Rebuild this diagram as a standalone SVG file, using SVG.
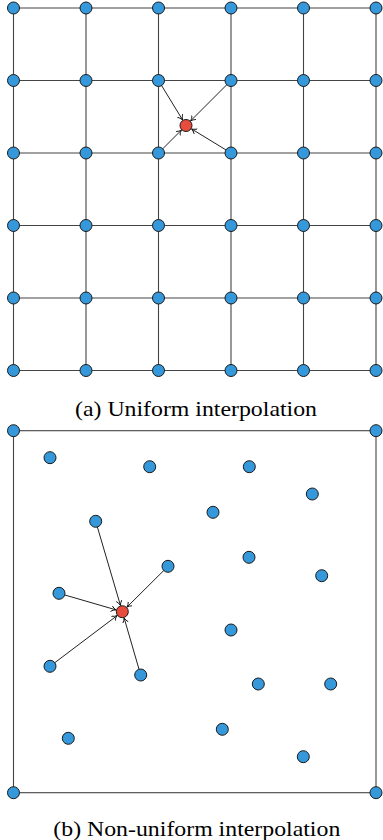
<svg xmlns="http://www.w3.org/2000/svg" width="383" height="840" viewBox="0 0 383 840">
<style>
.grid{stroke:#444;stroke-width:1.1;fill:none}
.edge{stroke:#222;stroke-width:1;fill:none;marker-end:url(#ah)}
.n{fill:#3498db;stroke:#1a1a1a;stroke-width:1}
.r{fill:#e74c3c;stroke:#1a1a1a;stroke-width:1}
.cap{font-family:"Liberation Serif",serif;font-size:22px;fill:#000}
</style>
<defs>
<marker id="ah" markerWidth="8" markerHeight="8" refX="5" refY="3" orient="auto" markerUnits="userSpaceOnUse">
<path d="M0,0 Q2.5,2.4 5,3 Q2.5,3.6 0,6" fill="none" stroke="#111" stroke-width="0.9"/>
</marker>
</defs>
<rect width="383" height="840" fill="#fff"/>
<g id="connectors">
<g id="grid-lines" class="grid">
<path d="M13.5,8H376M13.5,80.5H376M13.5,153H376M13.5,225.5H376M13.5,298H376M13.5,370.5H376"/>
<path d="M13.5,8V370.5M86,8V370.5M158.5,8V370.5M231,8V370.5M303.5,8V370.5M376,8V370.5"/>
<rect x="13.5" y="430.7" width="362.5" height="362"/>
</g>
<line class="edge" x1="158.5" y1="80.5" x2="182.6" y2="119.95"/>
<line class="edge" x1="231" y1="80.5" x2="190.6" y2="120.9"/>
<line class="edge" x1="158.5" y1="153" x2="181.4" y2="130.1"/>
<line class="edge" x1="231" y1="153" x2="191.55" y2="128.9"/>
<line class="edge" x1="95.7" y1="521.3" x2="120.47" y2="605.46"/>
<line class="edge" x1="168" y1="566.3" x2="126.91" y2="607.12"/>
<line class="edge" x1="59" y1="593.3" x2="116.06" y2="609.89"/>
<line class="edge" x1="50" y1="666.3" x2="117.11" y2="615.62"/>
<line class="edge" x1="140.7" y1="675" x2="124.11" y2="617.94"/>
</g>
<g id="grid-nodes">
<g id="g-r0"><circle class="n" cx="13.5" cy="8" r="6"/><circle class="n" cx="86" cy="8" r="6"/><circle class="n" cx="158.5" cy="8" r="6"/><circle class="n" cx="231" cy="8" r="6"/><circle class="n" cx="303.5" cy="8" r="6"/><circle class="n" cx="376" cy="8" r="6"/></g>
<g id="g-r1"><circle class="n" cx="13.5" cy="80.5" r="6"/><circle class="n" cx="86" cy="80.5" r="6"/><circle class="n" cx="158.5" cy="80.5" r="6"/><circle class="n" cx="231" cy="80.5" r="6"/><circle class="n" cx="303.5" cy="80.5" r="6"/><circle class="n" cx="376" cy="80.5" r="6"/></g>
<g id="g-r2"><circle class="n" cx="13.5" cy="153" r="6"/><circle class="n" cx="86" cy="153" r="6"/><circle class="n" cx="158.5" cy="153" r="6"/><circle class="n" cx="231" cy="153" r="6"/><circle class="n" cx="303.5" cy="153" r="6"/><circle class="n" cx="376" cy="153" r="6"/></g>
<g id="g-r3"><circle class="n" cx="13.5" cy="225.5" r="6"/><circle class="n" cx="86" cy="225.5" r="6"/><circle class="n" cx="158.5" cy="225.5" r="6"/><circle class="n" cx="231" cy="225.5" r="6"/><circle class="n" cx="303.5" cy="225.5" r="6"/><circle class="n" cx="376" cy="225.5" r="6"/></g>
<g id="g-r4"><circle class="n" cx="13.5" cy="298" r="6"/><circle class="n" cx="86" cy="298" r="6"/><circle class="n" cx="158.5" cy="298" r="6"/><circle class="n" cx="231" cy="298" r="6"/><circle class="n" cx="303.5" cy="298" r="6"/><circle class="n" cx="376" cy="298" r="6"/></g>
<g id="g-r5"><circle class="n" cx="13.5" cy="370.5" r="6"/><circle class="n" cx="86" cy="370.5" r="6"/><circle class="n" cx="158.5" cy="370.5" r="6"/><circle class="n" cx="231" cy="370.5" r="6"/><circle class="n" cx="303.5" cy="370.5" r="6"/><circle class="n" cx="376" cy="370.5" r="6"/></g>
<g id="target-a"><circle class="r" cx="186" cy="125.5" r="6"/></g>
</g>
<g id="scatter-nodes">
<g id="corners"><circle class="n" cx="13.5" cy="430.7" r="6"/><circle class="n" cx="376" cy="430.7" r="6"/><circle class="n" cx="13.5" cy="792.7" r="6"/><circle class="n" cx="376" cy="792.7" r="6"/></g>
<g id="s1"><circle class="n" cx="50" cy="457.7" r="6"/></g>
<g id="s2"><circle class="n" cx="149.7" cy="466.7" r="6"/></g>
<g id="s3"><circle class="n" cx="249.3" cy="466.7" r="6"/></g>
<g id="s4"><circle class="n" cx="312.3" cy="494" r="6"/></g>
<g id="s5"><circle class="n" cx="213" cy="512.3" r="6"/></g>
<g id="s6"><circle class="n" cx="95.7" cy="521.3" r="6"/></g>
<g id="s7"><circle class="n" cx="249" cy="557.3" r="6"/></g>
<g id="s8"><circle class="n" cx="168" cy="566.3" r="6"/></g>
<g id="s9"><circle class="n" cx="321.7" cy="575.7" r="6"/></g>
<g id="s10"><circle class="n" cx="59" cy="593.3" r="6"/></g>
<g id="s11"><circle class="n" cx="231" cy="630" r="6"/></g>
<g id="s12"><circle class="n" cx="50" cy="666.3" r="6"/></g>
<g id="s13"><circle class="n" cx="140.7" cy="675" r="6"/></g>
<g id="s14"><circle class="n" cx="258.3" cy="684" r="6"/></g>
<g id="s15"><circle class="n" cx="330.7" cy="684" r="6"/></g>
<g id="s16"><circle class="n" cx="222.3" cy="729.3" r="6"/></g>
<g id="s17"><circle class="n" cx="68.3" cy="738.3" r="6"/></g>
<g id="s18"><circle class="n" cx="303.3" cy="756.7" r="6"/></g>
<g id="target-b"><circle class="r" cx="122.3" cy="611.7" r="6"/></g>
</g>
<text class="cap" x="75" y="416" textLength="242" lengthAdjust="spacingAndGlyphs">(a) Uniform interpolation</text>
<text class="cap" x="53.3" y="836" textLength="287" lengthAdjust="spacingAndGlyphs">(b) Non-uniform interpolation</text>
</svg>
